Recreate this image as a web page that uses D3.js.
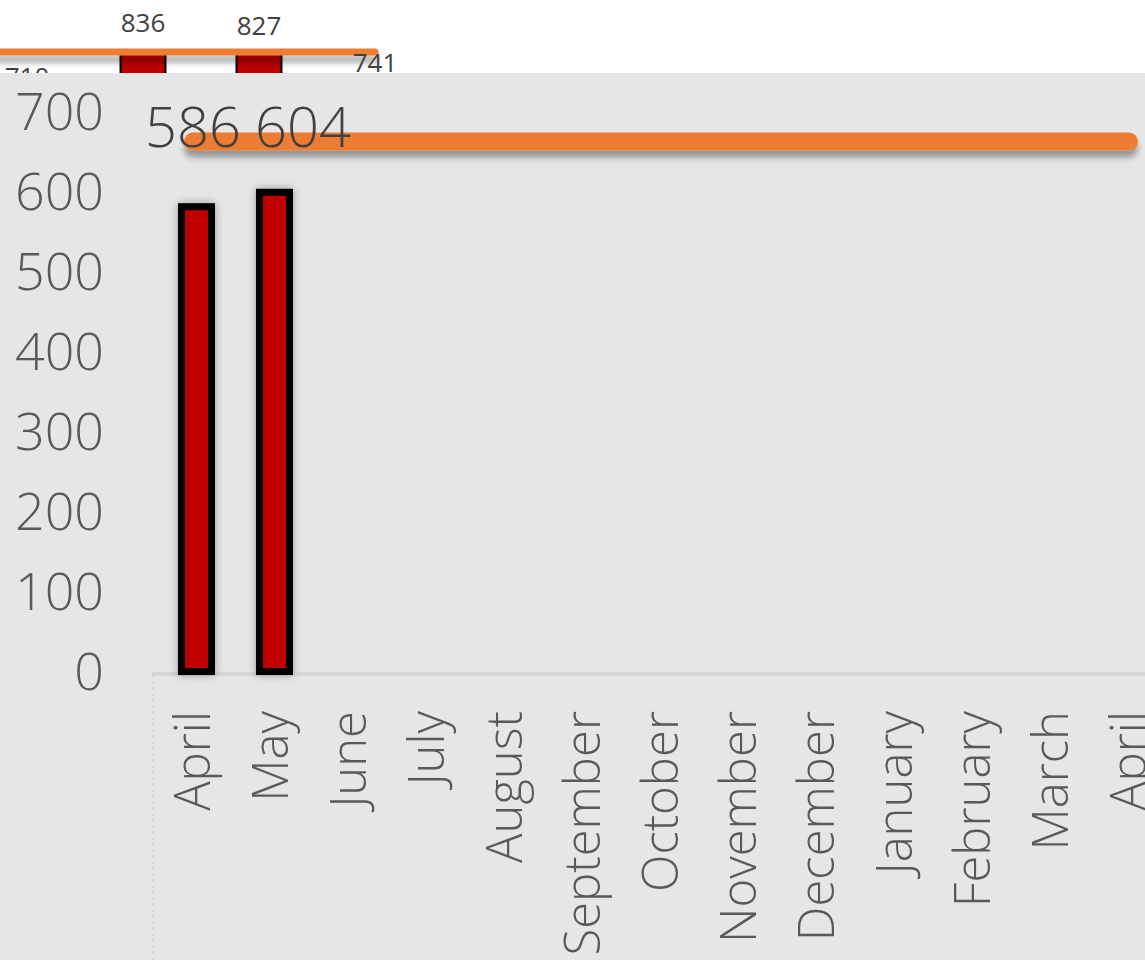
<!DOCTYPE html>
<html>
<head>
<meta charset="utf-8">
<script src="https://cdn.jsdelivr.net/npm/d3@7"></script>
<style>
  html, body { margin: 0; padding: 0; background: #ffffff; }
  svg { display: block; }
  text { font-family: "Open Sans", "Noto Sans", sans-serif; }
</style>
</head>
<body>
<svg id="chart" width="1145" height="960"></svg>
<script>
// ---- data ----
const months = ["April", "May", "June", "July", "August", "September", "October",
                "November", "December", "January", "February", "March", "April"];
const actual = [586, 604];
const target = 663;
const yTicks = [0, 100, 200, 300, 400, 500, 600, 700];

// earlier year's chart, partly hidden behind the current one
const prevActual = [710, 836, 827, 741];
const prevTarget = 767;

// ---- layout ----
const W = 1145, H = 960;
const panelTop = 73;
const svg = d3.select("#chart");

const defs = svg.append("defs");
defs.append("filter").attr("id", "lineShadow")
  .attr("filterUnits", "userSpaceOnUse")
  .attr("x", -50).attr("y", -50).attr("width", W + 100).attr("height", H + 100)
  .append("feDropShadow")
  .attr("dx", 0).attr("dy", 7).attr("stdDeviation", 3)
  .attr("flood-color", "#000").attr("flood-opacity", 0.35);
defs.append("filter").attr("id", "barShadow")
  .attr("filterUnits", "userSpaceOnUse")
  .attr("x", -50).attr("y", -50).attr("width", W + 100).attr("height", H + 100)
  .append("feDropShadow")
  .attr("dx", 0).attr("dy", 0).attr("stdDeviation", 4)
  .attr("flood-color", "#000").attr("flood-opacity", 0.35);
defs.append("clipPath").attr("id", "prevClip")
  .append("rect").attr("x", 0).attr("y", 0).attr("width", W).attr("height", panelTop);

// ---- previous chart strip (top) ----
const prev = svg.append("g").attr("clip-path", "url(#prevClip)");
const xPrev = d3.scaleBand().domain(d3.range(prevActual.length))
  .range([-31, 433]).paddingInner(0.595).paddingOuter(0.2975);
const yPrev = d3.scaleLinear().domain([710, 836]).range([76.5, 22.5]);
const prevLineY = yPrev(prevTarget);

defs.append("clipPath").attr("id", "prevBarClip")
  .append("rect").attr("x", 0).attr("y", prevLineY).attr("width", W).attr("height", panelTop - prevLineY);

prev.append("g").attr("clip-path", "url(#prevBarClip)")
  .selectAll("rect").data(prevActual).join("rect")
  .attr("x", (d, i) => xPrev(i) + 1)
  .attr("y", d => yPrev(d) + 16)
  .attr("width", xPrev.bandwidth() - 2)
  .attr("height", 400)
  .attr("fill", "#c00000").attr("stroke", "#000").attr("stroke-width", 2);

prev.append("line")
  .attr("x1", xPrev.range()[0])
  .attr("x2", xPrev(prevActual.length - 1) + xPrev.bandwidth() / 2)
  .attr("y1", prevLineY).attr("y2", prevLineY)
  .attr("stroke", "#ed7d31").attr("stroke-width", 7).attr("stroke-linecap", "round")
  .attr("filter", "url(#lineShadow)");

prev.append("g").selectAll("text").data(prevActual).join("text")
  .attr("x", (d, i) => xPrev(i) + xPrev.bandwidth() / 2)
  .attr("y", d => yPrev(d))
  .attr("dy", "0.35em")
  .attr("text-anchor", "middle")
  .attr("font-size", 26).attr("fill", "#404040")
  .text(d => d);

// ---- current chart panel ----
svg.append("rect").attr("x", 0).attr("y", panelTop).attr("width", W).attr("height", H - panelTop)
  .attr("fill", "#e6e6e6");

const x = d3.scaleBand().domain(d3.range(months.length))
  .range([154, 154 + 78 * months.length]).paddingInner(0.615).paddingOuter(0.3075);
const y = d3.scaleLinear().domain([0, 700]).range([672, 112]);
const cx = i => x(i) + x.bandwidth() / 2;

// y axis labels
svg.append("g").selectAll("text").data(yTicks).join("text")
  .attr("x", 104).attr("y", d => y(d)).attr("dy", "0.35em")
  .attr("text-anchor", "end")
  .attr("font-size", 52).attr("font-weight", 300).attr("fill", "#595959")
  .text(d => d);

// plot frame lines
svg.append("line")
  .attr("x1", 153).attr("x2", 153).attr("y1", y(0) + 3).attr("y2", H)
  .attr("stroke", "#d8d8d8").attr("stroke-width", 2).attr("stroke-dasharray", "3,3");
svg.append("line")
  .attr("x1", 152).attr("x2", W).attr("y1", y(0) + 2).attr("y2", y(0) + 2)
  .attr("stroke", "#d6d6d6").attr("stroke-width", 4);

// bars
svg.append("g").selectAll("rect").data(actual).join("rect")
  .attr("x", (d, i) => x(i) + 3.5)
  .attr("y", d => y(d) + 3.5)
  .attr("width", x.bandwidth())
  .attr("height", d => y(0) - y(d) - 4)
  .attr("fill", "#c00000").attr("stroke", "#000").attr("stroke-width", 7)
  .attr("filter", "url(#barShadow)");

// target line
svg.append("line")
  .attr("x1", cx(0)).attr("x2", cx(months.length - 1))
  .attr("y1", y(target)).attr("y2", y(target))
  .attr("stroke", "#ed7d31").attr("stroke-width", 18).attr("stroke-linecap", "round")
  .attr("filter", "url(#lineShadow)");

// data labels, laid out left to right so they never overlap
const labelG = svg.append("g");
let prevEnd = -Infinity;
actual.forEach((v, i) => {
  const t = labelG.append("text")
    .attr("y", y(target) + 5)
    .attr("font-size", 56).attr("font-weight", 300).attr("fill", "#404040")
    .text(v);
  const w = t.node().getComputedTextLength();
  const gap = 14;
  const left = Math.max(cx(i) - w / 2, prevEnd + gap);
  t.attr("x", left);
  prevEnd = left + w;
});

// month labels
svg.append("g").selectAll("text").data(months).join("text")
  .attr("transform", (d, i) => `translate(${cx(i)},${y(0) + 39}) rotate(-90)`)
  .attr("dy", "0.35em")
  .attr("text-anchor", "end")
  .attr("font-size", 49).attr("font-weight", 300).attr("fill", "#595959")
  .text(d => d);
</script>
</body>
</html>
